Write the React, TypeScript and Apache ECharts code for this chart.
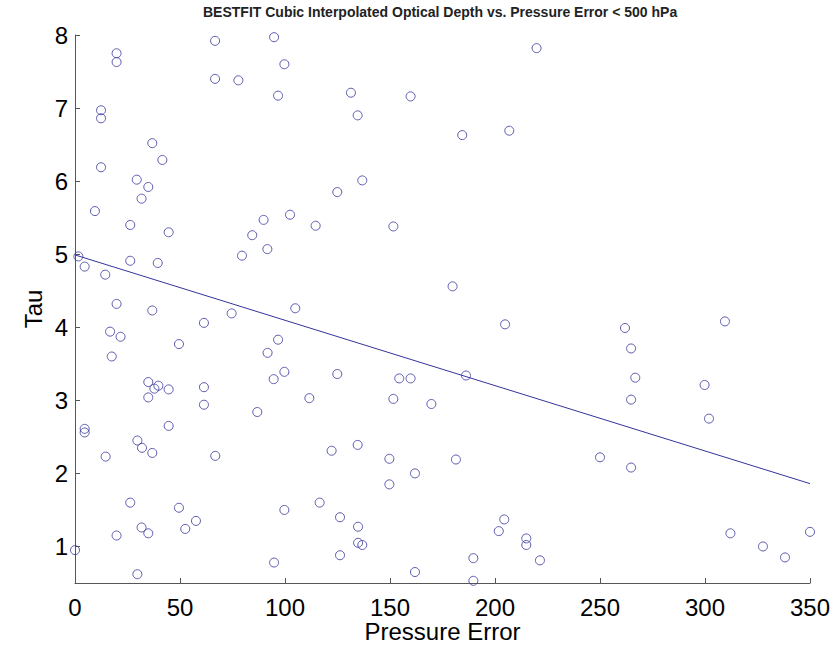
import React, { useEffect, useRef } from "react";
import * as echarts from "echarts";

const title = "BESTFIT Cubic Interpolated Optical Depth vs. Pressure Error < 500 hPa";
const xName = "Pressure Error";
const yName = "Tau";
const xTicks = [0, 50, 100, 150, 200, 250, 300, 350];
const yTicks = [1, 2, 3, 4, 5, 6, 7, 8];

// Pressure error values (x)
const pressureError = [
  66.7, 94.8, 19.8, 19.8, 99.7, 66.7, 77.8, 96.7, 12.4, 12.4,
  36.8, 41.6, 12.4, 29.4, 34.9, 31.7, 124.9, 9.5, 102.4, 89.8,
  114.6, 26.3, 44.6, 84.4, 91.6, 79.5, 1.6, 26.3, 39.4, 4.6,
  14.4, 19.8, 36.8, 74.6, 104.9, 61.4, 16.7, 21.7, 49.5, 96.7,
  91.7, 17.5, 99.7, 94.6, 124.9, 34.9, 39.7, 37.8, 44.6, 61.4,
  34.9, 61.4, 111.6, 86.8, 4.6, 4.6, 44.6, 29.7, 31.9, 36.8,
  66.8, 14.6, 122.2, 26.3, 49.5, 99.7, 116.5, 57.6, 31.7, 52.5,
  34.9, 19.8, 0.0, 94.8, 29.7, 126.2, 126.2, 219.8, 131.4, 159.8,
  134.6, 184.4, 206.8, 136.8, 151.6, 179.8, 204.8, 154.4, 159.8, 186.2,
  151.6, 169.7, 134.6, 149.7, 181.4, 161.9, 149.7, 134.8, 134.8, 136.8,
  204.4, 201.8, 214.9, 214.9, 189.7, 221.4, 161.9, 189.7, 309.5, 261.9,
  264.8, 266.8, 299.8, 264.8, 301.9, 250.0, 264.8, 312.1, 350.0, 327.6,
  338.1,
];

// Optical depth values (y)
const tau = [
  7.92, 7.97, 7.75, 7.63, 7.60, 7.40, 7.38, 7.17, 6.97, 6.86,
  6.52, 6.29, 6.19, 6.02, 5.92, 5.76, 5.85, 5.59, 5.54, 5.47,
  5.39, 5.40, 5.30, 5.26, 5.07, 4.98, 4.97, 4.91, 4.88, 4.83,
  4.72, 4.32, 4.23, 4.19, 4.26, 4.06, 3.94, 3.87, 3.77, 3.83,
  3.65, 3.60, 3.39, 3.29, 3.36, 3.25, 3.20, 3.16, 3.15, 3.18,
  3.04, 2.94, 3.03, 2.84, 2.61, 2.56, 2.65, 2.45, 2.35, 2.28,
  2.24, 2.23, 2.31, 1.60, 1.53, 1.50, 1.60, 1.35, 1.26, 1.24,
  1.18, 1.15, 0.95, 0.78, 0.62, 1.40, 0.88, 7.82, 7.21, 7.16,
  6.90, 6.63, 6.69, 6.01, 5.38, 4.56, 4.04, 3.30, 3.30, 3.34,
  3.02, 2.95, 2.39, 2.20, 2.19, 2.00, 1.85, 1.27, 1.05, 1.02,
  1.37, 1.21, 1.11, 1.02, 0.84, 0.81, 0.65, 0.53, 4.08, 3.99,
  3.71, 3.31, 3.21, 3.01, 2.75, 2.22, 2.08, 1.18, 1.20, 1.00,
  0.85,
];

// Best-fit line end points
const fitX = [0, 350];
const fitY = [4.99, 1.86];

export default function App() {
  const ref = useRef<HTMLDivElement>(null);
  useEffect(() => {
    if (!ref.current) return;
    const chart = echarts.init(ref.current, null, { renderer: "svg" });
    const markColor = "#34349c";
    const axisColor = "#555555";
    const font = "'Liberation Sans', Arial, Helvetica, sans-serif";
    chart.setOption({
      animation: false,
      backgroundColor: "#ffffff",
      textStyle: { fontFamily: font },
      title: {
        text: title,
        left: 198,
        top: 0,
        textStyle: { fontSize: 14, fontWeight: "bold", color: "#222222", fontFamily: font },
      },
      grid: {
        left: 75,
        right: 30,
        top: 35,
        bottom: 64,
        containLabel: false,
        outerBoundsMode: "none",
      },
      xAxis: {
        type: "value",
        min: 0,
        max: 350,
        interval: 50,
        name: xName,
        nameLocation: "middle",
        nameGap: 38,
        nameMoveOverlap: false,
        nameTextStyle: { fontSize: 24, lineHeight: 20, color: "#000000", fontFamily: font },
        axisLine: { show: true, onZero: false, lineStyle: { color: axisColor, width: 1 } },
        axisTick: { show: true, inside: true, length: 5, lineStyle: { color: axisColor } },
        axisLabel: {
          fontSize: 24,
          lineHeight: 20,
          color: "#000000",
          margin: 14,
          fontFamily: font,
          customValues: xTicks,
        },
        splitLine: { show: false },
      },
      yAxis: {
        type: "value",
        min: 0.5,
        max: 8,
        name: yName,
        nameLocation: "middle",
        nameGap: 30,
        nameRotate: 90,
        nameMoveOverlap: false,
        nameTextStyle: { fontSize: 24, color: "#000000", fontFamily: font },
        axisLine: { show: true, onZero: false, lineStyle: { color: axisColor, width: 1 } },
        axisTick: {
          show: true,
          inside: true,
          length: 5,
          lineStyle: { color: axisColor },
          customValues: yTicks,
        },
        axisLabel: {
          fontSize: 24,
          color: "#000000",
          margin: 7,
          fontFamily: font,
          customValues: yTicks,
        },
        splitLine: { show: false },
      },
      series: [
        {
          type: "scatter",
          data: pressureError.map((x, i) => [x, tau[i]]),
          symbol: "circle",
          symbolSize: 9,
          itemStyle: { color: "rgba(0,0,0,0)", borderColor: markColor, borderWidth: 1 },
          emphasis: { disabled: true },
        },
        {
          type: "line",
          data: fitX.map((x, i) => [x, fitY[i]]),
          showSymbol: false,
          lineStyle: { color: markColor, width: 1 },
          emphasis: { disabled: true },
        },
      ],
    });
    return () => chart.dispose();
  }, []);
  return (
    <div
      ref={ref}
      style={{ position: "fixed", left: 0, top: 0, width: 840, height: 647 }}
    />
  );
}
